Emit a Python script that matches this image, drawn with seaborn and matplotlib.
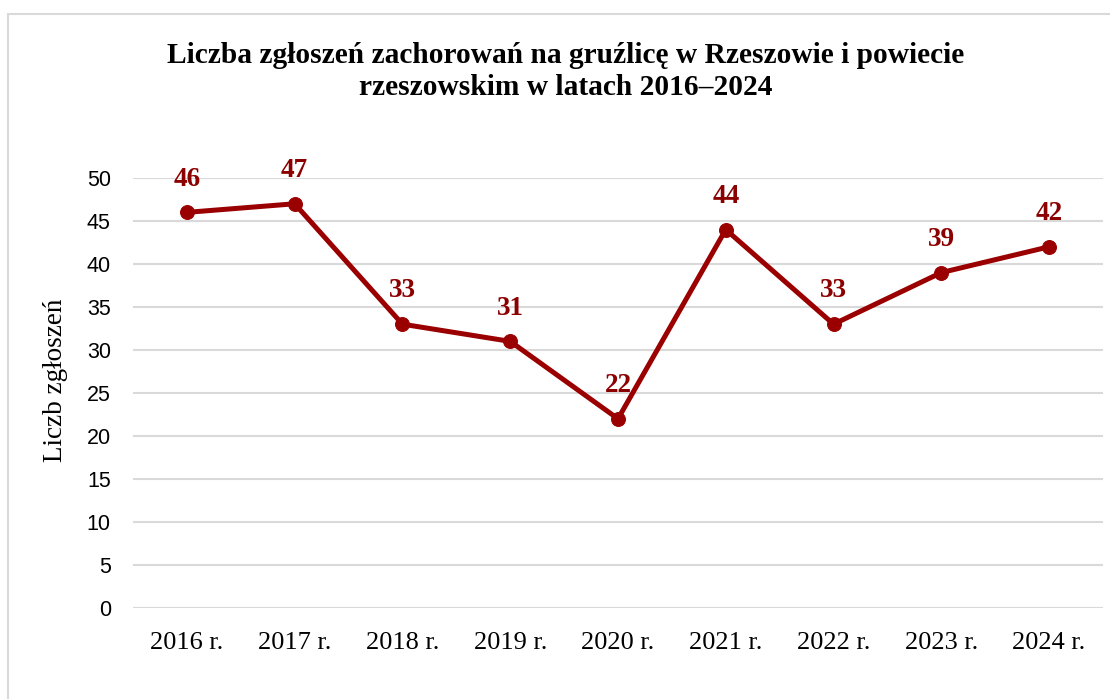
import matplotlib
matplotlib.use("Agg")
import matplotlib.pyplot as plt
import seaborn as sns
import pandas as pd
from matplotlib.patches import Rectangle

# data
years = ["2016 r.", "2017 r.", "2018 r.", "2019 r.", "2020 r.", "2021 r.", "2022 r.", "2023 r.", "2024 r."]
cases = [46, 47, 33, 31, 22, 44, 33, 39, 42]
y_ticks = [0, 5, 10, 15, 20, 25, 30, 35, 40, 45, 50]

title = "Liczba zgłoszeń zachorowań na gruźlicę w Rzeszowie i powiecie\nrzeszowskim w latach 2016–2024"
y_label = "Liczb zgłoszeń"

line_color = "#9B0000"
label_color = "#8B0000"
serif = ["Liberation Serif", "DejaVu Serif"]
sans = ["Liberation Sans", "DejaVu Sans"]

df = pd.DataFrame({"year": years, "cases": cases})
df["pos"] = range(len(df))

sns.set_style("white", rc={"text.color": "black", "xtick.color": "black",
                           "ytick.color": "black", "axes.labelcolor": "black"})

fig = plt.figure(figsize=(11.1, 6.99), dpi=100)
ax = fig.add_axes([0.1198, 0.1302, 0.8739, 0.6152])

# light grey frame around the whole chart
fig.patches.append(Rectangle((8 / 1110, -0.05), 1.2, 1 - 14 / 699 + 0.05,
                             transform=fig.transFigure, fill=False,
                             edgecolor="#D9D9D9", linewidth=1.5))

sns.lineplot(data=df, x="pos", y="cases", ax=ax, color=line_color,
             linewidth=3.6, marker="o", markersize=10,
             markeredgecolor=line_color, zorder=3)

for p, v in zip(df["pos"], df["cases"]):
    ax.annotate(str(v), (p, v), xytext=(0, 15), textcoords="offset points",
                ha="center", va="bottom", color=label_color,
                fontsize=19.5, fontweight="bold", family=serif, zorder=4)

ax.set_xlim(-0.5, len(years) - 0.5)
ax.set_ylim(0, 50)
ax.set_yticks(y_ticks)
ax.set_xticks(range(len(years)))
ax.set_xticklabels(years, family=serif, fontsize=19)
for t in ax.get_yticklabels():
    t.set_family(sans)
    t.set_fontsize(15.5)
ax.tick_params(axis="both", length=0)
ax.tick_params(axis="x", pad=17)
ax.tick_params(axis="y", pad=16)

ax.yaxis.grid(True, color="#D9D9D9", linewidth=1.5, zorder=0)
ax.set_axisbelow(True)
for s in ax.spines.values():
    s.set_visible(False)

ax.set_xlabel("")
ax.set_ylabel(y_label, family=serif, fontsize=19.5)
ax.yaxis.set_label_coords(-0.067, 0.53)

fig.text(0.51, 0.94, title, ha="center", va="top", family=serif,
         fontsize=21.2, fontweight="bold", linespacing=1.22)

fig.savefig("out.png", dpi=100)
